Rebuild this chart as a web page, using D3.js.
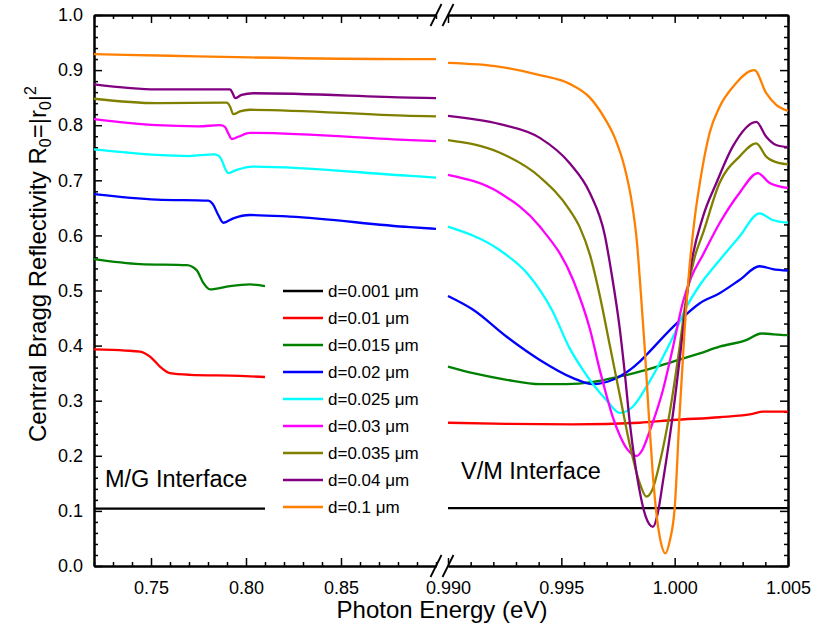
<!DOCTYPE html>
<html>
<head>
<meta charset="utf-8">
<script src="https://cdn.jsdelivr.net/npm/d3@7"></script>
<style>
  html, body { margin: 0; padding: 0; background: #fff; }
  svg { display: block; font-family: "Liberation Sans", Arial, sans-serif; }
</style>
</head>
<body>
<svg id="chart" width="815" height="628"></svg>
<script>
// Thickness labels, in legend order
const thicknessLabels = ["d=0.001 \u03bcm", "d=0.01 \u03bcm", "d=0.015 \u03bcm", "d=0.02 \u03bcm",
  "d=0.025 \u03bcm", "d=0.03 \u03bcm", "d=0.035 \u03bcm", "d=0.04 \u03bcm", "d=0.1 \u03bcm"];

// Low-energy branch (M/G interface): [photon energy eV, R0]
const d001Low = [[0.72, 0.104], [0.765, 0.104], [0.81, 0.104]];
const d010Low = [[0.72, 0.393], [0.7365, 0.391], [0.7442, 0.389], [0.7495, 0.380], [0.7547, 0.362],
  [0.76, 0.350], [0.7705, 0.347], [0.7968, 0.345], [0.81, 0.343]];
const d015Low = [[0.72, 0.557], [0.7442, 0.548], [0.7688, 0.546], [0.774, 0.537], [0.7775, 0.514],
  [0.7811, 0.502], [0.7916, 0.508], [0.8021, 0.511], [0.81, 0.508]];
const d020Low = [[0.72, 0.675], [0.753, 0.665], [0.7802, 0.663], [0.7825, 0.657], [0.7854, 0.637],
  [0.7881, 0.623], [0.7933, 0.631], [0.8021, 0.637], [0.8232, 0.634], [0.8863, 0.615], [0.90, 0.612]];
const d025Low = [[0.72, 0.756], [0.753, 0.746], [0.77, 0.744], [0.783, 0.747], [0.7854, 0.745],
  [0.7872, 0.737], [0.7889, 0.722], [0.7907, 0.713], [0.7951, 0.719], [0.8038, 0.725],
  [0.8863, 0.708], [0.90, 0.705]];
const d030Low = [[0.72, 0.811], [0.753, 0.800], [0.775, 0.798], [0.7863, 0.800], [0.7889, 0.797],
  [0.7907, 0.785], [0.7925, 0.775], [0.7959, 0.779], [0.8021, 0.786], [0.8863, 0.773], [0.90, 0.771]];
const d035Low = [[0.72, 0.848], [0.753, 0.840], [0.7898, 0.841], [0.7916, 0.834], [0.7933, 0.820],
  [0.7968, 0.825], [0.8021, 0.828], [0.8863, 0.817], [0.90, 0.816]];
const d040Low = [[0.72, 0.874], [0.753, 0.865], [0.7916, 0.865], [0.793, 0.858], [0.7942, 0.849],
  [0.7977, 0.855], [0.8038, 0.858], [0.8863, 0.850], [0.90, 0.849]];
const d100Low = [[0.72, 0.929], [0.76, 0.926], [0.8021, 0.923], [0.8863, 0.920], [0.90, 0.920]];

// High-energy branch (V/M interface): [photon energy eV, R0]
const d001High = [[0.990, 0.105], [0.9975, 0.105], [1.005, 0.105]];
const d010High = [[0.990, 0.260], [0.99259, 0.258], [0.99552, 0.257], [0.99846, 0.260],
  [0.99993, 0.265], [1.00198, 0.270], [1.00344, 0.276], [1.00389, 0.280], [1.005, 0.280]];
const d015High = [[0.990, 0.362], [0.99111, 0.350], [0.99259, 0.338], [0.99405, 0.330],
  [0.99523, 0.330], [0.99640, 0.334], [0.99758, 0.344], [0.99875, 0.356], [0.99993, 0.371],
  [1.00111, 0.386], [1.00198, 0.398], [1.00315, 0.410], [1.00382, 0.422], [1.00492, 0.419], [1.005, 0.419]];
const d020High = [[0.990, 0.490], [0.99111, 0.465], [0.99259, 0.416], [0.99405, 0.374],
  [0.99552, 0.341], [0.99640, 0.330], [0.99727, 0.338], [0.99846, 0.371], [0.99875, 0.383],
  [0.99993, 0.434], [1.00111, 0.477], [1.00198, 0.495], [1.00286, 0.519], [1.00374, 0.544],
  [1.00432, 0.539], [1.005, 0.536]];
const d025High = [[0.990, 0.616], [0.99229, 0.573], [0.99352, 0.530], [0.99458, 0.465],
  [0.99537, 0.395], [0.99595, 0.356], [0.99699, 0.301], [0.99758, 0.278], [0.99815, 0.289],
  [0.99875, 0.325], [0.99934, 0.368], [0.99993, 0.416], [1.00052, 0.470], [1.00111, 0.510],
  [1.00198, 0.555], [1.00286, 0.598], [1.00374, 0.640], [1.00432, 0.628], [1.005, 0.623]];
const d030High = [[0.990, 0.710], [0.99229, 0.677], [0.99405, 0.616], [0.99552, 0.519],
  [0.99626, 0.430], [0.99670, 0.355], [0.99699, 0.310], [0.99727, 0.270], [0.99758, 0.237],
  [0.99789, 0.213], [0.99815, 0.202], [0.99833, 0.200], [0.99859, 0.212], [0.99890, 0.245],
  [0.99948, 0.319], [0.99993, 0.398], [1.00037, 0.480], [1.00074, 0.525], [1.00125, 0.565],
  [1.00198, 0.622], [1.00286, 0.677], [1.00367, 0.713], [1.00419, 0.695], [1.005, 0.686]];
const d035High = [[0.990, 0.773], [0.99229, 0.750], [0.99405, 0.706], [0.99537, 0.646],
  [0.99581, 0.615], [0.99626, 0.565], [0.99670, 0.490], [0.99714, 0.400], [0.99758, 0.310],
  [0.99802, 0.220], [0.99846, 0.150], [0.99875, 0.126], [0.99903, 0.140], [0.99934, 0.187],
  [0.99978, 0.278], [1.00022, 0.398], [1.00052, 0.490], [1.00088, 0.560], [1.00125, 0.604],
  [1.00198, 0.695], [1.00286, 0.743], [1.00360, 0.767], [1.00404, 0.743], [1.00463, 0.731], [1.005, 0.729]];
const d040High = [[0.990, 0.817], [0.99229, 0.802], [0.99405, 0.777], [0.99537, 0.731],
  [0.99626, 0.677], [0.99692, 0.600], [0.99722, 0.530], [0.99758, 0.430], [0.99780, 0.350],
  [0.99802, 0.260], [0.99824, 0.190], [0.99846, 0.135], [0.99872, 0.090], [0.99904, 0.071],
  [0.99925, 0.095], [0.99947, 0.150], [0.99993, 0.278], [1.00037, 0.428], [1.00066, 0.530],
  [1.00125, 0.634], [1.00184, 0.695], [1.00256, 0.761], [1.00360, 0.806], [1.00404, 0.779],
  [1.00448, 0.764], [1.005, 0.760]];
const d100High = [[0.990, 0.913], [0.99229, 0.906], [0.99405, 0.891], [0.99537, 0.875],
  [0.99626, 0.850], [0.99692, 0.812], [0.99736, 0.777], [0.99780, 0.722], [0.99811, 0.660],
  [0.99833, 0.590], [0.99850, 0.500], [0.99868, 0.395], [0.99885, 0.280], [0.99903, 0.170],
  [0.99921, 0.090], [0.99938, 0.045], [0.99959, 0.023], [0.99978, 0.045], [1.00000, 0.105],
  [1.00022, 0.278], [1.00044, 0.430], [1.00066, 0.545], [1.00088, 0.630], [1.00111, 0.695],
  [1.00154, 0.786], [1.00198, 0.833], [1.00256, 0.869], [1.00352, 0.900], [1.00404, 0.858],
  [1.00448, 0.837], [1.005, 0.826]];

const lowBranch = [d001Low, d010Low, d015Low, d020Low, d025Low, d030Low, d035Low, d040Low, d100Low];
const highBranch = [d001High, d010High, d015High, d020High, d025High, d030High, d035High, d040High, d100High];

// Axis ticks
const lowMajorTicks = [0.75, 0.80, 0.85];
const highMajorTicks = [0.990, 0.995, 1.000, 1.005];
const yMajorTicks = [0, 0.1, 0.2, 0.3, 0.4, 0.5, 0.6, 0.7, 0.8, 0.9, 1.0];

// Line colours per thickness
const colors = ["#000000", "#ff0000", "#008000", "#0000ff", "#00ffff", "#ff00ff", "#808000", "#800080", "#ff8000"];

const svg = d3.select("#chart");
const plotTop = 15, plotBottom = 566, plotLeft = 94, plotRight = 788, breakL = 436, breakR = 448;

const xLow = d3.scaleLinear().domain([0.72, 0.90]).range([plotLeft, breakL]);
const xHigh = d3.scaleLinear().domain([0.990, 1.005]).range([breakR, plotRight]);
const y = d3.scaleLinear().domain([0, 1]).range([plotBottom, plotTop]);

const lowMinor = d3.range(72, 91).map(v => v / 100).filter(v => !lowMajorTicks.some(m => Math.abs(m - v) < 1e-9));
const highMinor = d3.range(990, 1006).map(v => v / 1000).filter(v => !highMajorTicks.some(m => Math.abs(m - v) < 1e-9));
const yMinor = d3.range(0, 51).map(v => v / 50).filter(v => !yMajorTicks.some(m => Math.abs(m - v) < 1e-9));

const axisStyle = g => {
  g.selectAll(".domain").attr("stroke", "#000").attr("stroke-width", 2);
  g.selectAll(".tick line").attr("stroke", "#000").attr("stroke-width", 1.5);
  g.selectAll(".tick text").attr("font-size", 18).attr("fill", "#000")
    .attr("font-family", "Liberation Sans, Arial, sans-serif");
};

function hAxis(scale, major, minor, fmt, yPos, isBottom) {
  const maker = isBottom ? d3.axisBottom : d3.axisTop;
  svg.append("g").attr("transform", `translate(0,${yPos})`)
    .call(maker(scale).tickValues(minor).tickSizeInner(-4).tickSizeOuter(0).tickFormat(""))
    .call(axisStyle);
  svg.append("g").attr("transform", `translate(0,${yPos})`)
    .call(maker(scale).tickValues(major).tickSizeInner(-8).tickSizeOuter(0)
      .tickPadding(isBottom ? 15 : 0).tickFormat(isBottom ? d3.format(fmt) : ""))
    .call(axisStyle);
}
hAxis(xLow, lowMajorTicks, lowMinor, ".2f", plotBottom, true);
hAxis(xHigh, highMajorTicks, highMinor, ".3f", plotBottom, true);
hAxis(xLow, lowMajorTicks, lowMinor, ".2f", plotTop, false);
hAxis(xHigh, highMajorTicks, highMinor, ".3f", plotTop, false);

function vAxis(xPos, isLeft) {
  const maker = isLeft ? d3.axisLeft : d3.axisRight;
  svg.append("g").attr("transform", `translate(${xPos},0)`)
    .call(maker(y).tickValues(yMinor).tickSizeInner(-4).tickSizeOuter(0).tickFormat(""))
    .call(axisStyle);
  svg.append("g").attr("transform", `translate(${xPos},0)`)
    .call(maker(y).tickValues(yMajorTicks).tickSizeInner(-8).tickSizeOuter(0)
      .tickPadding(11).tickFormat(isLeft ? d3.format(".1f") : ""))
    .call(axisStyle);
}
vAxis(plotLeft, true);
vAxis(plotRight, false);

// Axis break marks
[[breakL, plotBottom], [breakR, plotBottom], [breakL, plotTop], [breakR, plotTop]].forEach(([bx, by]) => {
  svg.append("line")
    .attr("x1", bx - 5.5).attr("y1", by + 11).attr("x2", bx + 5.5).attr("y2", by - 11)
    .attr("stroke", "#000").attr("stroke-width", 1.8);
});

// Curves
const lineLow = d3.line().x(d => xLow(d[0])).y(d => y(d[1])).curve(d3.curveMonotoneX);
const lineHigh = d3.line().x(d => xHigh(d[0])).y(d => y(d[1])).curve(d3.curveMonotoneX);

const curves = svg.append("g").attr("fill", "none").attr("stroke-width", 2.3)
  .attr("stroke-linejoin", "round").attr("stroke-linecap", "butt");
lowBranch.forEach((s, i) => curves.append("path").attr("d", lineLow(s)).attr("stroke", colors[i]));
highBranch.forEach((s, i) => curves.append("path").attr("d", lineHigh(s)).attr("stroke", colors[i]));

// Legend
const legend = svg.append("g").attr("transform", "translate(283,291)");
thicknessLabels.forEach((lab, i) => {
  const row = legend.append("g").attr("transform", `translate(0,${i * 27})`);
  row.append("line").attr("x1", 0).attr("x2", 40).attr("y1", 0).attr("y2", 0)
    .attr("stroke", colors[i]).attr("stroke-width", 2.3);
  row.append("text").attr("x", 45).attr("y", 6).attr("font-size", 17).text(lab);
});

// Region annotations
svg.append("text").attr("x", 105).attr("y", 487).attr("font-size", 23.5).text("M/G Interface");
svg.append("text").attr("x", 461).attr("y", 479).attr("font-size", 23.5).text("V/M Interface");

// Axis titles
svg.append("text").attr("x", 442).attr("y", 618).attr("text-anchor", "middle")
  .attr("font-size", 24).text("Photon Energy (eV)");

const yTitle = svg.append("text").attr("transform", "translate(46,264) rotate(-90)")
  .attr("text-anchor", "middle").attr("font-size", 24);
yTitle.append("tspan").text("Central Bragg Reflectivity R");
yTitle.append("tspan").attr("font-size", 16).attr("dy", 5).text("0");
yTitle.append("tspan").attr("dy", -5).text("=|r");
yTitle.append("tspan").attr("font-size", 16).attr("dy", 5).text("0");
yTitle.append("tspan").attr("dy", -5).text("|");
yTitle.append("tspan").attr("font-size", 16).attr("dy", -10).text("2");
</script>
</body>
</html>
